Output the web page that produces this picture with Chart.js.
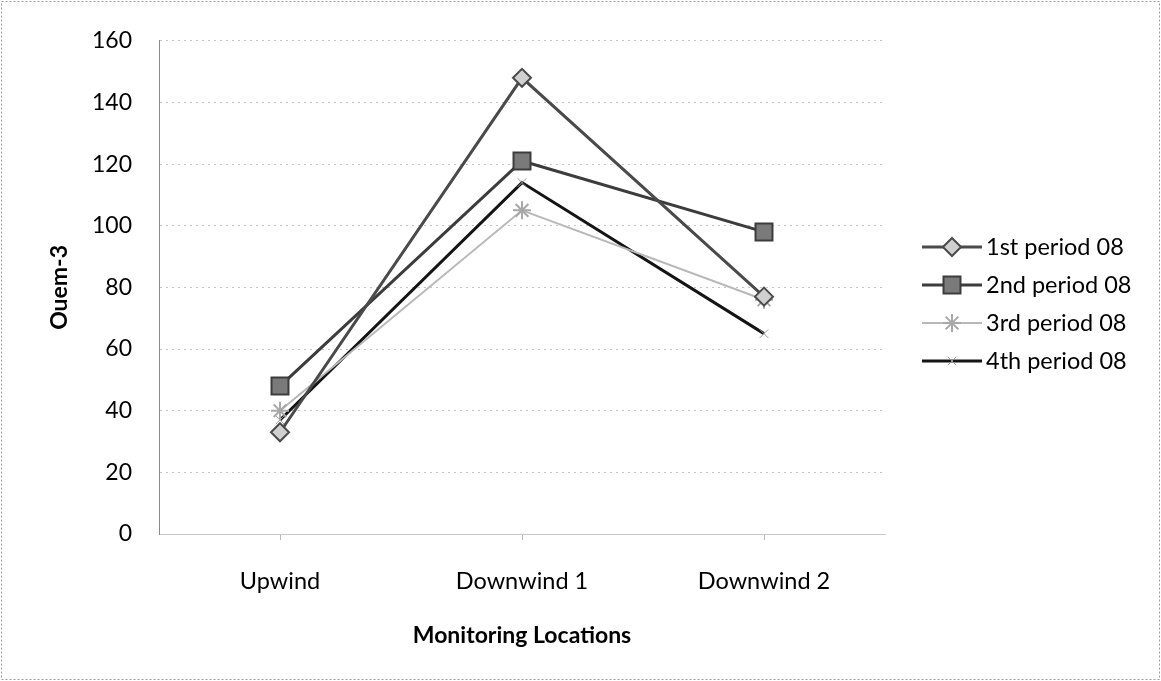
<!DOCTYPE html>
<html>
<head>
<meta charset="utf-8">
<script src="https://cdn.jsdelivr.net/npm/chart.js@4/dist/chart.umd.min.js"></script>
<style>
  html, body { margin: 0; padding: 0; background: #fff; }
  #wrap { width: 1161px; height: 681px; position: relative; }
</style>
</head>
<body>
<div id="wrap"><canvas id="myChart"></canvas></div>
<script>
// Données
const locations = ['Upwind', 'Downwind 1', 'Downwind 2'];
const period1 = [33, 148, 77];
const period2 = [48, 121, 98];
const period3 = [40, 105, 76];
const period4 = [37, 114, 65];
const seriesNames = ['1st period 08', '2nd period 08', '3rd period 08', '4th period 08'];
const yTicks = [0, 20, 40, 60, 80, 100, 120, 140, 160];

const police = 'Lato, "Open Sans", sans-serif';

// Légende dessinée à la main : trait + marqueur comme dans Excel
const legendeExcel = {
    id: 'legendeExcel',
    afterDraw(chart) {
        const ctx = chart.ctx;
        ctx.save();
        chart.data.datasets.forEach((ds, i) => {
            const y = 247 + i * 38;
            ctx.setLineDash([]);
            ctx.strokeStyle = ds.borderColor;
            ctx.lineWidth = ds.borderWidth;
            ctx.beginPath();
            ctx.moveTo(922, y);
            ctx.lineTo(982, y);
            ctx.stroke();
            ctx.fillStyle = ds.pointBackgroundColor;
            ctx.strokeStyle = ds.pointBorderColor;
            ctx.lineWidth = ds.pointBorderWidth;
            Chart.helpers.drawPoint(ctx, {
                pointStyle: ds.pointStyle,
                rotation: 0,
                radius: ds.pointRadius,
                borderWidth: ds.pointBorderWidth
            }, 952, y);
            ctx.fillStyle = '#000';
            ctx.font = '23.5px ' + police;
            ctx.textBaseline = 'middle';
            ctx.textAlign = 'left';
            ctx.fillText(ds.label, 986, y);
        });
        ctx.restore();
    }
};

// Cadre pointillé autour de l'image
const cadre = {
    id: 'cadre',
    beforeDraw(chart) {
        const ctx = chart.ctx;
        ctx.save();
        ctx.strokeStyle = '#9a9a9a';
        ctx.lineWidth = 1;
        ctx.setLineDash([2, 2]);
        ctx.strokeRect(1.5, 1.5, chart.width - 3, chart.height - 3);
        ctx.restore();
    }
};

const ctx = document.getElementById('myChart').getContext('2d');
const myChart = new Chart(ctx, {
    type: 'line',
    data: {
        labels: locations,
        datasets: [{
            label: seriesNames[0],
            data: period1,
            borderColor: '#4a4a4a',
            borderWidth: 3,
            pointStyle: 'rectRot',
            pointRadius: 9,
            pointBackgroundColor: '#d0d0d0',
            pointBorderColor: '#4a4a4a',
            pointBorderWidth: 2
        }, {
            label: seriesNames[1],
            data: period2,
            borderColor: '#3c3c3c',
            borderWidth: 3,
            pointStyle: 'rect',
            pointRadius: 12,
            pointBackgroundColor: '#7a7a7a',
            pointBorderColor: '#3c3c3c',
            pointBorderWidth: 2
        }, {
            label: seriesNames[2],
            data: period3,
            borderColor: '#b8b8b8',
            borderWidth: 2,
            pointStyle: 'star',
            pointRadius: 9,
            pointBackgroundColor: '#b8b8b8',
            pointBorderColor: '#a8a8a8',
            pointBorderWidth: 2
        }, {
            label: seriesNames[3],
            data: period4,
            borderColor: '#141414',
            borderWidth: 3,
            pointStyle: 'crossRot',
            pointRadius: 6,
            pointBackgroundColor: '#999999',
            pointBorderColor: '#999999',
            pointBorderWidth: 1
        }]
    },
    options: {
        responsive: true,
        maintainAspectRatio: false,
        animation: false,
        layout: { padding: { left: 10, right: 276, top: 34, bottom: 0 } },
        plugins: {
            legend: { display: false },
            tooltip: { enabled: false }
        },
        scales: {
            x: {
                offset: true,
                grid: {
                    display: true,
                    drawOnChartArea: false,
                    tickLength: 6,
                    color: '#bbbbbb'
                },
                border: { color: '#c8c8c8', dash: [2, 3] },
                ticks: {
                    color: '#000',
                    padding: 27,
                    font: { family: police, size: 23.5 }
                },
                title: {
                    display: true,
                    text: 'Monitoring Locations',
                    color: '#000',
                    font: { family: police, size: 23, weight: 'bold' },
                    padding: { top: 0, bottom: 32 }
                },
                afterFit: (scale) => { scale.height = 147; }
            },
            y: {
                min: 0,
                max: 160,
                afterBuildTicks: (scale) => { scale.ticks = yTicks.map(v => ({ value: v })); },
                grid: {
                    color: '#c4c4c4',
                    drawTicks: false,
                    tickLength: 0
                },
                border: { color: '#8a8a8a', dash: [2, 4] },
                ticks: {
                    color: '#000',
                    padding: 27,
                    font: { family: police, size: 23 }
                },
                title: {
                    display: true,
                    text: 'Ouem-3',
                    color: '#000',
                    font: { family: police, size: 23, weight: 'bold' },
                    padding: { top: 36, bottom: 0 }
                },
                afterFit: (scale) => { scale.width = 149; }
            }
        }
    },
    plugins: [cadre, legendeExcel]
});
</script>
</body>
</html>
